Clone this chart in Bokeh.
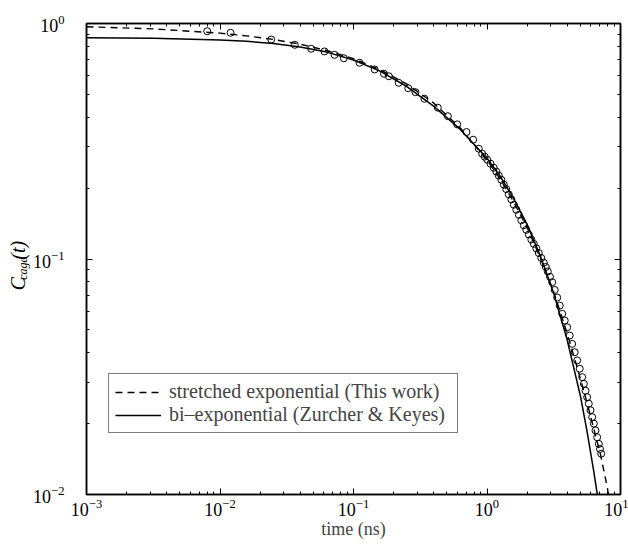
from math import pi
from bokeh.plotting import figure
from bokeh.layouts import row
from bokeh.models import LogAxis, Label, Legend, LegendItem, Range1d, FixedTicker
from bokeh.embed import file_html
from bokeh.resources import INLINE

# ---- data ----
# simulation points (circles)
t_data = [0.00802, 0.0120, 0.0242, 0.0363, 0.0482, 0.0606, 0.0721, 0.0846, 0.111, 0.144,
          0.169, 0.184, 0.218, 0.257, 0.291, 0.340, 0.428, 0.509, 0.598, 0.702,
          0.788, 0.868, 0.920, 0.961, 1.004, 1.062, 1.124, 1.174, 1.226, 1.280,
          1.336, 1.395, 1.457, 1.521, 1.588, 1.658, 1.731, 1.807, 1.887, 1.970,
          2.057, 2.148, 2.242, 2.340, 2.443, 2.551, 2.664, 2.757, 2.854, 2.964,
          3.079, 3.215, 3.357, 3.505, 3.660, 3.820, 3.988, 4.163, 4.346, 4.538,
          4.739, 4.948, 5.167, 5.316, 5.469, 5.626, 5.787, 5.960, 6.138, 6.315,
          6.496, 6.685, 6.879, 7.022, 7.168]
c_data = [0.927, 0.913, 0.855, 0.812, 0.781, 0.761, 0.736, 0.712, 0.681, 0.638,
          0.612, 0.597, 0.560, 0.531, 0.511, 0.479, 0.439, 0.404, 0.373, 0.346,
          0.321, 0.294, 0.280, 0.272, 0.264, 0.254, 0.244, 0.235, 0.226, 0.217,
          0.207, 0.198, 0.188, 0.179, 0.170, 0.162, 0.154, 0.146, 0.139, 0.133,
          0.127, 0.121, 0.116, 0.111, 0.106, 0.101, 0.0965, 0.0925, 0.0885, 0.0840,
          0.0797, 0.0739, 0.0686, 0.0634, 0.0585, 0.0548, 0.0513, 0.0473, 0.0436, 0.0402,
          0.0371, 0.0342, 0.0315, 0.0295, 0.0276, 0.0259, 0.0243, 0.0228, 0.0213, 0.0200,
          0.0187, 0.0175, 0.0164, 0.0156, 0.0149]

# stretched exponential fit (dashed)
t_str = [0.001, 0.00316, 0.01, 0.0158, 0.0251, 0.0398, 0.0631, 0.1, 0.158, 0.251,
         0.398, 0.631, 1.0, 1.26, 1.58, 2.0, 2.51, 3.16, 3.98, 5.01,
         5.62, 6.31, 7.08, 7.94, 8.51]
c_str = [0.969, 0.949, 0.910, 0.886, 0.856, 0.817, 0.768, 0.709, 0.637, 0.553,
         0.460, 0.360, 0.263, 0.218, 0.175, 0.136, 0.101, 0.0725, 0.0485, 0.0310,
         0.0245, 0.0190, 0.0148, 0.0108, 0.0087]

# bi-exponential fit (solid)
t_bi = [0.001, 0.00316, 0.01, 0.0158, 0.0251, 0.0398, 0.0631, 0.1, 0.158, 0.251,
        0.398, 0.631, 1.0, 1.26, 1.58, 2.0, 2.51, 3.16, 3.98, 5.01,
        5.62, 6.31, 6.76, 7.0]
c_bi = [0.870, 0.865, 0.852, 0.840, 0.822, 0.795, 0.756, 0.700, 0.628, 0.540,
        0.446, 0.355, 0.268, 0.224, 0.181, 0.140, 0.103, 0.0715, 0.0455, 0.0262,
        0.0185, 0.0125, 0.0097, 0.0083]

x_major = [1e-3, 1e-2, 1e-1, 1e0, 1e1]
y_major = [1e-2, 1e-1, 1e0]
legend_labels = ["stretched exponential (This work)", "bi\u2013exponential (Zurcher & Keyes)"]
x_label = "time (ns)"
y_label_parts = ["C", "cage", "(t)"]

FONT = "Liberation Serif"


def minors(majors):
    out = []
    for m in majors[:-1]:
        out += [k * m for k in range(2, 10)]
    return out


# ---- narrow strip holding the rotated y-axis title ----
LAB_W = 30
H = 544
lab = figure(width=LAB_W, height=H, x_range=Range1d(0, LAB_W), y_range=Range1d(0, H),
             output_backend="svg", toolbar_location=None, min_border=0,
             x_axis_location=None, y_axis_location=None)
lab.outline_line_color = None
lab.xgrid.visible = False
lab.ygrid.visible = False
lab.border_fill_color = "white"
lab.background_fill_color = "white"

# (font size, centre x, centre y) in strip pixels, y measured from the bottom
part_style = [("20px", 17, 243.5), ("12px", 22, 261), ("20px", 17, 282)]
for txt, (sz, xs, ys) in zip(y_label_parts, part_style):
    lab.add_layout(Label(x=xs, y=ys, text=txt, angle=pi / 2, text_font=FONT,
                         text_font_size=sz, text_font_style="italic", text_color="black",
                         text_baseline="middle", text_align="center"))

# ---- main plot ----
p = figure(width=628 - LAB_W, height=H, x_axis_type="log", y_axis_type="log",
           x_range=Range1d(1e-3, 1e1), y_range=Range1d(1e-2, 1e0),
           output_backend="svg", toolbar_location=None,
           min_border_left=86 - LAB_W, min_border_top=23, min_border_right=8, min_border_bottom=50)

p.xgrid.visible = False
p.ygrid.visible = False
p.outline_line_color = "black"
p.outline_line_width = 1.5
p.background_fill_color = "white"
p.border_fill_color = "white"

r_str = p.line(t_str, c_str, line_color="black", line_width=1.4, line_dash="7 5")
r_bi = p.line(t_bi, c_bi, line_color="black", line_width=1.5)
p.scatter(t_data, c_data, marker="circle", size=7, fill_alpha=0, line_color="black", line_width=1)


def style_axis(ax, majors, show_labels=True):
    ax.ticker = FixedTicker(ticks=majors, minor_ticks=minors(majors))
    ax.axis_line_color = "black"
    ax.axis_line_width = 1.5
    ax.major_tick_in = 6
    ax.major_tick_out = 0
    ax.minor_tick_in = 3
    ax.minor_tick_out = 0
    ax.major_tick_line_color = "black"
    ax.minor_tick_line_color = "black"
    ax.major_label_text_font = FONT
    ax.major_label_text_font_size = "18px"
    ax.major_label_text_color = "black"
    if not show_labels:
        ax.major_label_text_font_size = "0px"
        ax.major_label_text_alpha = 0


style_axis(p.xaxis[0], x_major)
style_axis(p.yaxis[0], y_major)
p.xaxis[0].major_label_standoff = 4
p.yaxis[0].major_label_standoff = 22
p.xaxis[0].axis_label = x_label
p.xaxis[0].axis_label_text_font = FONT
p.xaxis[0].axis_label_text_font_size = "18px"
p.xaxis[0].axis_label_text_font_style = "normal"
p.xaxis[0].axis_label_standoff = 0

top = LogAxis()
right = LogAxis()
style_axis(top, x_major, False)
style_axis(right, y_major, False)
p.add_layout(top, "above")
p.add_layout(right, "right")

legend = Legend(items=[LegendItem(label=legend_labels[0], renderers=[r_str]),
                       LegendItem(label=legend_labels[1], renderers=[r_bi])],
                location=(22, 61), border_line_color="black", border_line_width=1,
                background_fill_color="white", background_fill_alpha=1,
                label_text_font=FONT, label_text_font_size="20px",
                glyph_width=46, glyph_height=22, label_standoff=8, label_width=282,
                padding=6, spacing=0, margin=0)
p.add_layout(legend, "center")

layout = row(lab, p, spacing=0)
open("out.html", "w").write(file_html(layout, INLINE))
